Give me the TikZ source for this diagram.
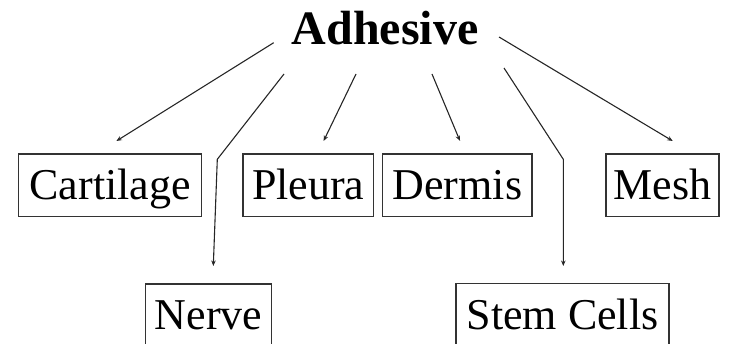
\documentclass[tikz,border=0pt]{standalone}
\usepackage{fontspec}
\setmainfont{Liberation Serif}
\usetikzlibrary{arrows.meta,calc}
\begin{document}
\begin{tikzpicture}[x=1pt,y=-1pt,
  box/.style={draw=black!80, line width=1.4pt, inner sep=0pt, minimum height=62.7pt,
    text height=45.3pt, text depth=17.4pt, font=\fontsize{44}{48}\selectfont},
  arr/.style={line width=1.1pt, draw=black!85, -{Stealth[length=5.5pt,width=4.5pt]}}]
\useasboundingbox (0,0) rectangle (730,344);
\node[font=\fontsize{48}{52}\selectfont\bfseries, inner sep=0pt, anchor=base] (adh) at (385,45) {Adhesive};
\node[box, minimum width=183pt] (cart) at (110.1,185.35) {Cartilage};
\node[box, minimum width=130.4pt] (pleura) at (308.2,185.35) {Pleura};
\node[box, minimum width=149.3pt] (dermis) at (457.4,185.35) {Dermis};
\node[box, minimum width=113pt] (mesh) at (662.5,185.35) {Mesh};
\node[box, minimum width=125.7pt] (nerve) at (208.5,315.35) {Nerve};
\node[box, minimum width=213pt] (stem) at (562.5,315.05) {Stem Cells};
\coordinate (s1) at (273.7,42.7);
\coordinate (s2) at (284,74);
\coordinate (s3) at (356,74);
\coordinate (s4) at (432,74);
\coordinate (s5) at (504,68);
\coordinate (s6) at (499,37);
\coordinate (b2) at (217.3,159.3);
\coordinate (b5) at (563.3,159.3);
\draw[arr] (s1) -- ($(cart.north)+(6.3,-12.3)$);
\draw[arr] (s2) -- (b2) -- ($(nerve.north)+(4.8,-17.3)$);
\draw[arr] (s3) -- ($(pleura.north)+(15.4,-12.3)$);
\draw[arr] (s4) -- ($(dermis.north)+(2.6,-12.3)$);
\draw[arr] (s5) -- (b5) -- ($(stem.north)+(0.8,-17)$);
\draw[arr] (s6) -- ($(mesh.north)+(10.2,-12.3)$);
\end{tikzpicture}
\end{document}
